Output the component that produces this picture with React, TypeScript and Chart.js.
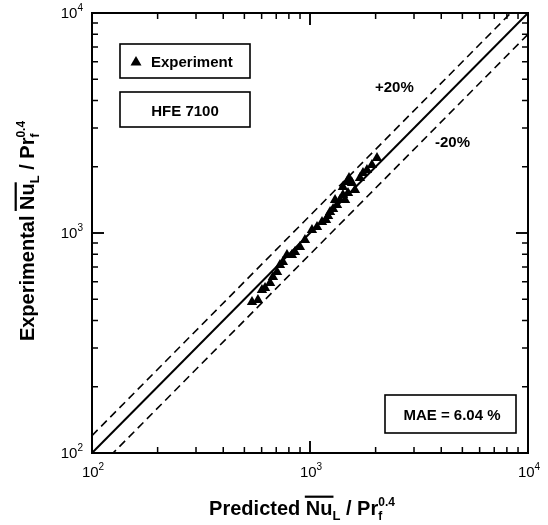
import React, { useEffect, useRef } from 'react';
import { Chart, registerables } from 'chart.js';

Chart.register(...registerables);

// Predicted Nu_L / Pr_f^0.4 (x) and Experimental Nu_L / Pr_f^0.4 (y)
const predicted = [542, 577, 602, 622, 656, 676, 706, 728, 751, 784, 826, 853, 899, 948, 1021, 1077, 1135, 1184, 1210, 1236, 1276, 1303, 1330, 1373, 1416, 1416, 1448, 1494, 1479, 1510, 1558, 1608, 1695, 1750, 1825, 1923, 2029];
const experimental = [486, 496, 551, 562, 593, 631, 665, 716, 738, 794, 794, 820, 864, 929, 1032, 1064, 1122, 1146, 1195, 1245, 1285, 1413, 1341, 1413, 1489, 1618, 1413, 1520, 1706, 1778, 1687, 1568, 1778, 1874, 1932, 2037, 2192];

const axisMin = 100;
const axisMax = 10000;
const decadeValues = [100, 1000, 10000];
const decadeExponents = ['2', '3', '4'];
const bandRatios = [1.2, 0.8];
const bandLabels = ['+20%', '-20%'];
const legendLabel = 'Experiment';
const fluidLabel = 'HFE 7100';
const maeLabel = 'MAE = 6.04 %';

const FONT = "'Liberation Sans', Arial, Helvetica, sans-serif";

type Seg =
  | { t: string; size: number; dy?: number; over?: boolean }
  | { sup: string; sub: string; size: number; supDy: number; subDy: number };

function segWidth(ctx: CanvasRenderingContext2D, s: Seg, weight: string) {
  if ('t' in s) {
    ctx.font = `${weight} ${s.size}px ${FONT}`;
    return ctx.measureText(s.t).width;
  }
  ctx.font = `${weight} ${s.size}px ${FONT}`;
  return Math.max(ctx.measureText(s.sup).width, ctx.measureText(s.sub).width);
}

function drawRich(ctx: CanvasRenderingContext2D, segs: Seg[], cx: number, y: number, weight: string, align: 'center' | 'left' | 'right' = 'center') {
  const widths = segs.map((s) => segWidth(ctx, s, weight));
  const total = widths.reduce((a, b) => a + b, 0);
  let x = align === 'center' ? cx - total / 2 : align === 'right' ? cx - total : cx;
  ctx.textAlign = 'left';
  ctx.textBaseline = 'alphabetic';
  segs.forEach((s, i) => {
    ctx.font = `${weight} ${s.size}px ${FONT}`;
    if ('t' in s) {
      ctx.fillText(s.t, x, y + (s.dy || 0));
      if (s.over) {
        ctx.fillRect(x - 1, y - s.size * 0.72 - 5, widths[i] + 2, 2.2);
      }
    } else {
      ctx.fillText(s.sup, x, y + s.supDy);
      ctx.fillText(s.sub, x, y + s.subDy);
    }
    x += widths[i];
  });
}

const titleSegs = (first: string): Seg[] => [
  { t: first + ' ', size: 20 },
  { t: 'Nu', size: 20, over: true },
  { t: 'L', size: 13, dy: 5 },
  { t: ' / Pr', size: 20 },
  { sup: '0.4', sub: 'f', size: 12, supDy: -9, subDy: 5 },
];

const decorPlugin = {
  id: 'decor',
  afterDraw(chart: any) {
    const ctx: CanvasRenderingContext2D = chart.ctx;
    const { left, right, top, bottom } = chart.chartArea;
    const xs = chart.scales.x;
    const ys = chart.scales.y;
    ctx.save();
    ctx.fillStyle = '#000';
    ctx.strokeStyle = '#000';

    // frame
    ctx.lineWidth = 2;
    ctx.strokeRect(left, top, right - left, bottom - top);

    // inward ticks on all four sides
    ctx.lineWidth = 1.5;
    for (let d = axisMin; d < axisMax; d *= 10) {
      for (let m = 1; m <= 10; m++) {
        const v = d * m;
        if (v > axisMax) continue;
        const major = m === 1 || m === 10;
        const len = major ? 12 : 6;
        const px = xs.getPixelForValue(v);
        const py = ys.getPixelForValue(v);
        ctx.beginPath();
        ctx.moveTo(px, bottom); ctx.lineTo(px, bottom - len);
        ctx.moveTo(px, top); ctx.lineTo(px, top + len);
        ctx.moveTo(left, py); ctx.lineTo(left + len, py);
        ctx.moveTo(right, py); ctx.lineTo(right - len, py);
        ctx.stroke();
      }
    }

    // tick labels
    decadeValues.forEach((v, i) => {
      const px = xs.getPixelForValue(v);
      const py = ys.getPixelForValue(v);
      const segs: Seg[] = [
        { t: '10', size: 15 },
        { t: decadeExponents[i], size: 10, dy: -7 },
      ];
      drawRich(ctx, segs, px + 1, bottom + 24, 'normal', 'center');
      drawRich(ctx, segs, left - 9, py + 5, 'normal', 'right');
    });

    // axis titles
    drawRich(ctx, titleSegs('Predicted'), (left + right) / 2 - 8, 515, 'bold', 'center');
    ctx.save();
    ctx.translate(34, (top + bottom) / 2 - 2);
    ctx.rotate(-Math.PI / 2);
    drawRich(ctx, titleSegs('Experimental'), 0, 0, 'bold', 'center');
    ctx.restore();

    // boxes
    ctx.lineWidth = 1.6;
    const box = (x: number, y: number, w: number, h: number) => {
      ctx.fillStyle = '#fff';
      ctx.fillRect(x, y, w, h);
      ctx.strokeRect(x, y, w, h);
      ctx.fillStyle = '#000';
    };
    box(120, 44, 130, 34);
    box(120, 92, 130, 35);
    box(385, 395, 131, 38);

    ctx.font = `bold 15px ${FONT}`;
    ctx.textBaseline = 'alphabetic';
    // legend triangle
    ctx.beginPath();
    ctx.moveTo(136, 56);
    ctx.lineTo(141.5, 65.5);
    ctx.lineTo(130.5, 65.5);
    ctx.closePath();
    ctx.fill();
    ctx.textAlign = 'left';
    ctx.fillText(legendLabel, 151, 67);
    ctx.textAlign = 'center';
    ctx.fillText(fluidLabel, 185, 116);
    ctx.fillText(maeLabel, 452, 420);
    ctx.textAlign = 'left';
    ctx.fillText(bandLabels[0], 375, 92);
    ctx.fillText(bandLabels[1], 435, 147);

    ctx.restore();
  },
};

export default function App() {
  const ref = useRef<HTMLCanvasElement | null>(null);
  useEffect(() => {
    if (!ref.current) return;
    const points = predicted.map((x, i) => ({ x, y: experimental[i] }));
    const lineOf = (r: number) => [
      { x: axisMin, y: axisMin * r },
      { x: axisMax, y: axisMax * r },
    ];
    const chart = new Chart(ref.current, {
      type: 'scatter',
      data: {
        datasets: [
          {
            label: legendLabel,
            data: points,
            pointStyle: 'triangle',
            pointRadius: 6,
            backgroundColor: '#000',
            borderColor: '#000',
            borderWidth: 0,
            showLine: false,
          },
          {
            label: 'y = x',
            data: lineOf(1),
            showLine: true,
            pointRadius: 0,
            borderColor: '#000',
            borderWidth: 2,
          },
          ...bandRatios.map((r, i) => ({
            label: bandLabels[i],
            data: lineOf(r),
            showLine: true,
            pointRadius: 0,
            borderColor: '#000',
            borderWidth: 1.6,
            borderDash: [8, 5],
          })),
        ] as any,
      },
      options: {
        animation: false,
        responsive: true,
        maintainAspectRatio: false,
        layout: { padding: { left: 92, top: 13, right: 20, bottom: 72 } },
        plugins: { legend: { display: false }, tooltip: { enabled: false } },
        scales: {
          x: { type: 'logarithmic', min: axisMin, max: axisMax, display: false },
          y: { type: 'logarithmic', min: axisMin, max: axisMax, display: false },
        },
      },
      plugins: [decorPlugin],
    });
    return () => chart.destroy();
  }, []);
  return (
    <div style={{ position: 'absolute', left: 0, top: 0, width: 548, height: 525, background: '#fff' }}>
      <canvas ref={ref} />
    </div>
  );
}
